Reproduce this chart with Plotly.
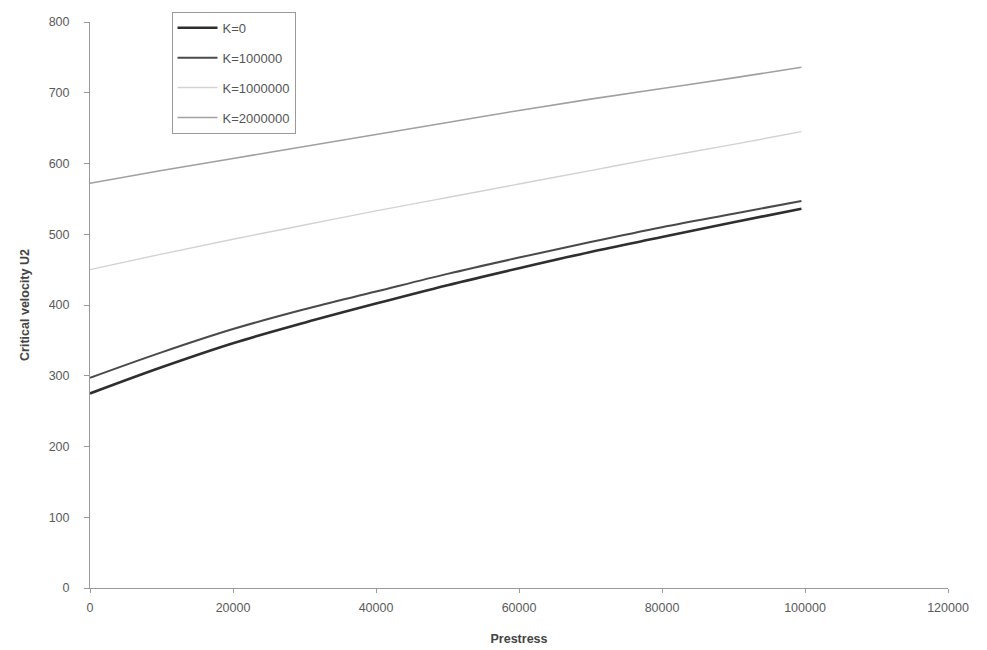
import plotly.graph_objects as go

# Prestress values (x) and critical velocity U2 for each foundation stiffness K
prestress = [0, 10000, 20000, 30000, 40000, 50000, 60000, 70000, 80000, 90000, 99500]

u2_k0 = [275, 312, 346, 375, 402, 428, 452, 475, 496, 517, 536]
u2_k1e5 = [297, 333, 366, 394, 419, 444, 467, 489, 510, 529, 547]
u2_k1e6 = [450, 472, 493, 513, 533, 552, 571, 590, 609, 627, 645]
u2_k2e6 = [572, 590, 607, 624, 641, 658, 675, 691, 706, 721, 736]

series_names = ["K=0", "K=100000", "K=1000000", "K=2000000"]
series_values = [u2_k0, u2_k1e5, u2_k1e6, u2_k2e6]
series_colors = ["#2e2e2e", "#4a4a4a", "#d2d2d2", "#a0a0a0"]
series_widths = [2.6, 2.0, 1.4, 1.6]

x_ticks = [0, 20000, 40000, 60000, 80000, 100000, 120000]
y_ticks = [0, 100, 200, 300, 400, 500, 600, 700, 800]

fig = go.Figure()
for name, vals, col, w in zip(series_names, series_values, series_colors, series_widths):
    fig.add_trace(go.Scatter(
        x=prestress, y=vals, name=name, mode="lines", legendgroup=name,
        line=dict(color=col, width=w, shape="spline"),
    ))

axis_font = dict(family="Liberation Sans, Arial, sans-serif", size=12.5, color="#5a5a5a")

fig.update_layout(
    width=987, height=650,
    margin=dict(l=90, r=39, t=22, b=62),
    paper_bgcolor="white", plot_bgcolor="white",
    font=dict(family="Liberation Sans, Arial, sans-serif", color="#444444"),
    showlegend=True,
    legend=dict(
        x=0.095, y=1.018, xanchor="left", yanchor="top",
        bgcolor="white", bordercolor="#9a9a9a", borderwidth=1,
        font=dict(size=13, color="#555555"),
        tracegroupgap=10, itemwidth=40,
    ),
    xaxis=dict(
        range=[0, 120000], tickvals=x_ticks, ticktext=[str(v) for v in x_ticks],
        showgrid=False, zeroline=False, showline=True, linecolor="#9a9a9a", linewidth=1,
        ticks="outside", ticklen=4, tickcolor="#9a9a9a", tickfont=axis_font,
        ticklabelstandoff=4, automargin=False,
        title=dict(text="<b>Prestress</b>", font=dict(size=12.5, color="#444444"), standoff=20),
    ),
    yaxis=dict(
        range=[0, 800], tickvals=y_ticks, ticktext=[str(v) for v in y_ticks],
        showgrid=False, zeroline=False, showline=True, linecolor="#9a9a9a", linewidth=1,
        ticks="outside", ticklen=5, tickcolor="#9a9a9a", tickfont=axis_font,
        ticklabelstandoff=12, automargin=False,
        title=dict(text="<b>Critical velocity U2</b>", font=dict(size=12.5, color="#444444"), standoff=16),
    ),
)

fig.write_html("out.html")
